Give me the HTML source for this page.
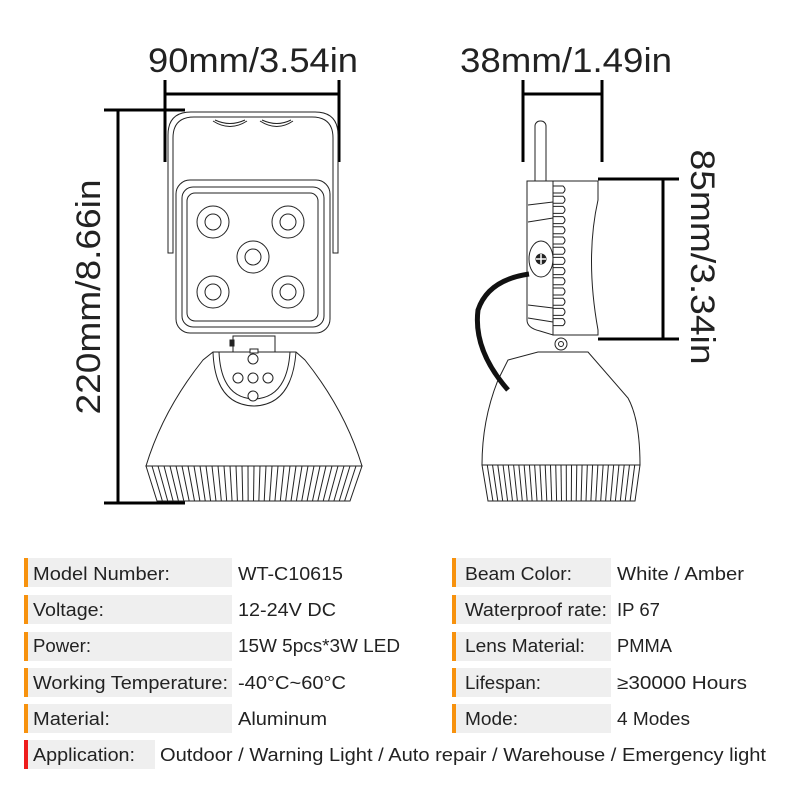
<!DOCTYPE html>
<html><head><meta charset="utf-8"><style>
body{margin:0;background:#fff;}
svg{display:block}
text{font-family:"Liberation Sans",sans-serif;fill:#222}
.t{font-size:18px}
</style></head><body>
<svg id="s" width="800" height="800" viewBox="0 0 800 800" xmlns="http://www.w3.org/2000/svg">
<g fill="none" stroke="#000" stroke-width="3">
<line x1="165" y1="80" x2="165" y2="162"/><line x1="339" y1="80" x2="339" y2="162"/><line x1="165" y1="94" x2="339" y2="94"/>
<line x1="118" y1="110" x2="118" y2="503"/><line x1="104" y1="110" x2="185" y2="110"/><line x1="104" y1="503" x2="185" y2="503"/>
<line x1="523" y1="80" x2="523" y2="162"/><line x1="602" y1="80" x2="602" y2="162"/><line x1="523" y1="94" x2="602" y2="94"/>
<line x1="663" y1="179" x2="663" y2="339"/><line x1="598" y1="179" x2="679" y2="179"/><line x1="598" y1="339" x2="679" y2="339"/>
</g>
<text x="253" y="72" font-size="34" text-anchor="middle" textLength="210" lengthAdjust="spacingAndGlyphs">90mm/3.54in</text>
<text x="566" y="72" font-size="34" text-anchor="middle" textLength="212" lengthAdjust="spacingAndGlyphs">38mm/1.49in</text>
<text transform="translate(100,297) rotate(-90)" font-size="34" text-anchor="middle" textLength="235" lengthAdjust="spacingAndGlyphs">220mm/8.66in</text>
<text transform="translate(691,257) rotate(90)" font-size="34" text-anchor="middle" textLength="215" lengthAdjust="spacingAndGlyphs">85mm/3.34in</text>

<g fill="#fff" stroke="#222" stroke-width="1">
<path d="M168 253 V135 Q168 112 191 112 H315 Q338 112 338 135 V253 H333 V138 Q333 117 312 117 H194 Q173 117 173 138 V253 Z"/>
<path d="M213 121 Q230 132 247 121 M260 121 Q277 132 293 121" fill="none"/>
<path d="M215 120 Q230 127 245 120 M262 120 Q277 127 291 120" fill="none"/>
<rect x="176" y="180" width="154" height="153" rx="14"/>
<rect x="182" y="187" width="142" height="140" rx="11"/>
<rect x="187" y="193" width="131" height="128" rx="8"/>
<circle cx="213" cy="222" r="16"/><circle cx="213" cy="222" r="8"/>
<circle cx="288" cy="222" r="16"/><circle cx="288" cy="222" r="8"/>
<circle cx="253" cy="257" r="16"/><circle cx="253" cy="257" r="8"/>
<circle cx="213" cy="292" r="16"/><circle cx="213" cy="292" r="8"/>
<circle cx="288" cy="292" r="16"/><circle cx="288" cy="292" r="8"/>
<rect x="233" y="336" width="42" height="16"/>
<rect x="230" y="340" width="4" height="6" fill="#222"/>
<path d="M213 352 H296 L305 360 Q345 410 362 466 H146 Q163 410 203 360 Z"/>
<path d="M213 352 Q215 405 254 406 Q292 405 296 352" fill="none"/>
<path d="M219 352 Q221 398 254 399 Q287 398 290 352" fill="none"/>
<rect x="250" y="349" width="8" height="4"/>
<circle cx="253" cy="359" r="5"/><circle cx="238" cy="378" r="5"/><circle cx="253" cy="378" r="5"/><circle cx="268" cy="378" r="5"/><circle cx="253" cy="396" r="5"/>
<path d="M146 466 H362 L350 501 H157 Z"/>
<rect x="535" y="121" width="11" height="190" rx="5"/>
<path d="M553 181 H527 Q527 181 527 200 V320 Q527 328 540 331 L553 335 Z"/>
<path d="M553 181 H598 V200 Q585 258 598 330 V335 H553 Z"/>
<path d="M528 205 L553 202 M528 222 L553 218 M528 305 L553 308 M528 318 L553 322" fill="none"/>
<ellipse cx="541" cy="259" rx="12" ry="18"/>
<circle cx="541" cy="259" r="5" fill="#222"/>
<path d="M536 259 H546 M541 254 V264" stroke="#fff" stroke-width="1.5"/>
<circle cx="561" cy="344" r="6"/><circle cx="561" cy="344" r="2.5"/>
<path d="M538 352 H588 L628 398 Q640 420 640 465 H482 Q482 420 498 380 L508 360 Z"/>
<path d="M482 465 H640 L635 501 H488 Z"/>
</g>
<path d="M529 274 Q488 280 478 310 Q473 350 508 390" fill="none" stroke="#111" stroke-width="5"/>
<g id="fins" stroke="#222" stroke-width="1" fill="none"></g>

<g>
<rect x="28" y="558" width="204" height="29" fill="#efefef"/><rect x="24" y="558" width="4" height="29" fill="#f7920e"/>
<rect x="28" y="595" width="204" height="29" fill="#efefef"/><rect x="24" y="595" width="4" height="29" fill="#f7920e"/>
<rect x="28" y="632" width="204" height="29" fill="#efefef"/><rect x="24" y="632" width="4" height="29" fill="#f7920e"/>
<rect x="28" y="668" width="204" height="29" fill="#efefef"/><rect x="24" y="668" width="4" height="29" fill="#f7920e"/>
<rect x="28" y="704" width="204" height="29" fill="#efefef"/><rect x="24" y="704" width="4" height="29" fill="#f7920e"/>
<rect x="28" y="740" width="127" height="29" fill="#efefef"/><rect x="24" y="740" width="4" height="29" fill="#ee1c1c"/>
<rect x="456" y="558" width="155" height="29" fill="#efefef"/><rect x="452" y="558" width="4" height="29" fill="#f7920e"/>
<rect x="456" y="595" width="155" height="29" fill="#efefef"/><rect x="452" y="595" width="4" height="29" fill="#f7920e"/>
<rect x="456" y="632" width="155" height="29" fill="#efefef"/><rect x="452" y="632" width="4" height="29" fill="#f7920e"/>
<rect x="456" y="668" width="155" height="29" fill="#efefef"/><rect x="452" y="668" width="4" height="29" fill="#f7920e"/>
<rect x="456" y="704" width="155" height="29" fill="#efefef"/><rect x="452" y="704" width="4" height="29" fill="#f7920e"/>
</g>
<g>
<text x="33" y="580" class="t" textLength="137" lengthAdjust="spacingAndGlyphs">Model Number:</text><text x="238" y="580" class="t" textLength="105" lengthAdjust="spacingAndGlyphs">WT-C10615</text>
<text x="33" y="616" class="t" textLength="71" lengthAdjust="spacingAndGlyphs">Voltage:</text><text x="238" y="616" class="t" textLength="98" lengthAdjust="spacingAndGlyphs">12-24V DC</text>
<text x="33" y="652" class="t" textLength="58" lengthAdjust="spacingAndGlyphs">Power:</text><text x="238" y="652" class="t" textLength="162" lengthAdjust="spacingAndGlyphs">15W 5pcs*3W LED</text>
<text x="33" y="689" class="t" textLength="195" lengthAdjust="spacingAndGlyphs">Working Temperature:</text><text x="238" y="689" class="t" textLength="108" lengthAdjust="spacingAndGlyphs">-40°C~60°C</text>
<text x="33" y="725" class="t" textLength="77" lengthAdjust="spacingAndGlyphs">Material:</text><text x="238" y="725" class="t" textLength="89" lengthAdjust="spacingAndGlyphs">Aluminum</text>
<text x="33" y="761" class="t" textLength="102" lengthAdjust="spacingAndGlyphs">Application:</text><text x="160" y="761" class="t" textLength="606" lengthAdjust="spacingAndGlyphs">Outdoor / Warning Light / Auto repair / Warehouse / Emergency light</text>
<text x="465" y="580" class="t" textLength="107" lengthAdjust="spacingAndGlyphs">Beam Color:</text><text x="617" y="580" class="t" textLength="127" lengthAdjust="spacingAndGlyphs">White / Amber</text>
<text x="465" y="616" class="t" textLength="142" lengthAdjust="spacingAndGlyphs">Waterproof rate:</text><text x="617" y="616" class="t" textLength="43" lengthAdjust="spacingAndGlyphs">IP 67</text>
<text x="465" y="652" class="t" textLength="120" lengthAdjust="spacingAndGlyphs">Lens Material:</text><text x="617" y="652" class="t" textLength="55" lengthAdjust="spacingAndGlyphs">PMMA</text>
<text x="465" y="689" class="t" textLength="76" lengthAdjust="spacingAndGlyphs">Lifespan:</text><text x="617" y="689" class="t" textLength="130" lengthAdjust="spacingAndGlyphs">≥30000 Hours</text>
<text x="465" y="725" class="t" textLength="53" lengthAdjust="spacingAndGlyphs">Mode:</text><text x="617" y="725" class="t" textLength="73" lengthAdjust="spacingAndGlyphs">4 Modes</text>
</g>
</svg>
<script>
var g=document.getElementById('fins'),h='';
function fins(tx0,tx1,bx0,bx1,ty,by,n){for(var i=1;i<n;i++){var f=i/n;h+='<line x1="'+(tx0+(tx1-tx0)*f)+'" y1="'+ty+'" x2="'+(bx0+(bx1-bx0)*f)+'" y2="'+by+'"/>';}}
fins(146,362,157,350,466,501,36);
fins(482,640,488,635,465,501,30);
for(var k=0;k<14;k++){var y=186+k*10.2;h+='<path d="M553 '+y+' H563 Q567 '+(y+3.5)+' 563 '+(y+7)+' H553"/>';}
g.innerHTML=h;
</script>
</body></html>
